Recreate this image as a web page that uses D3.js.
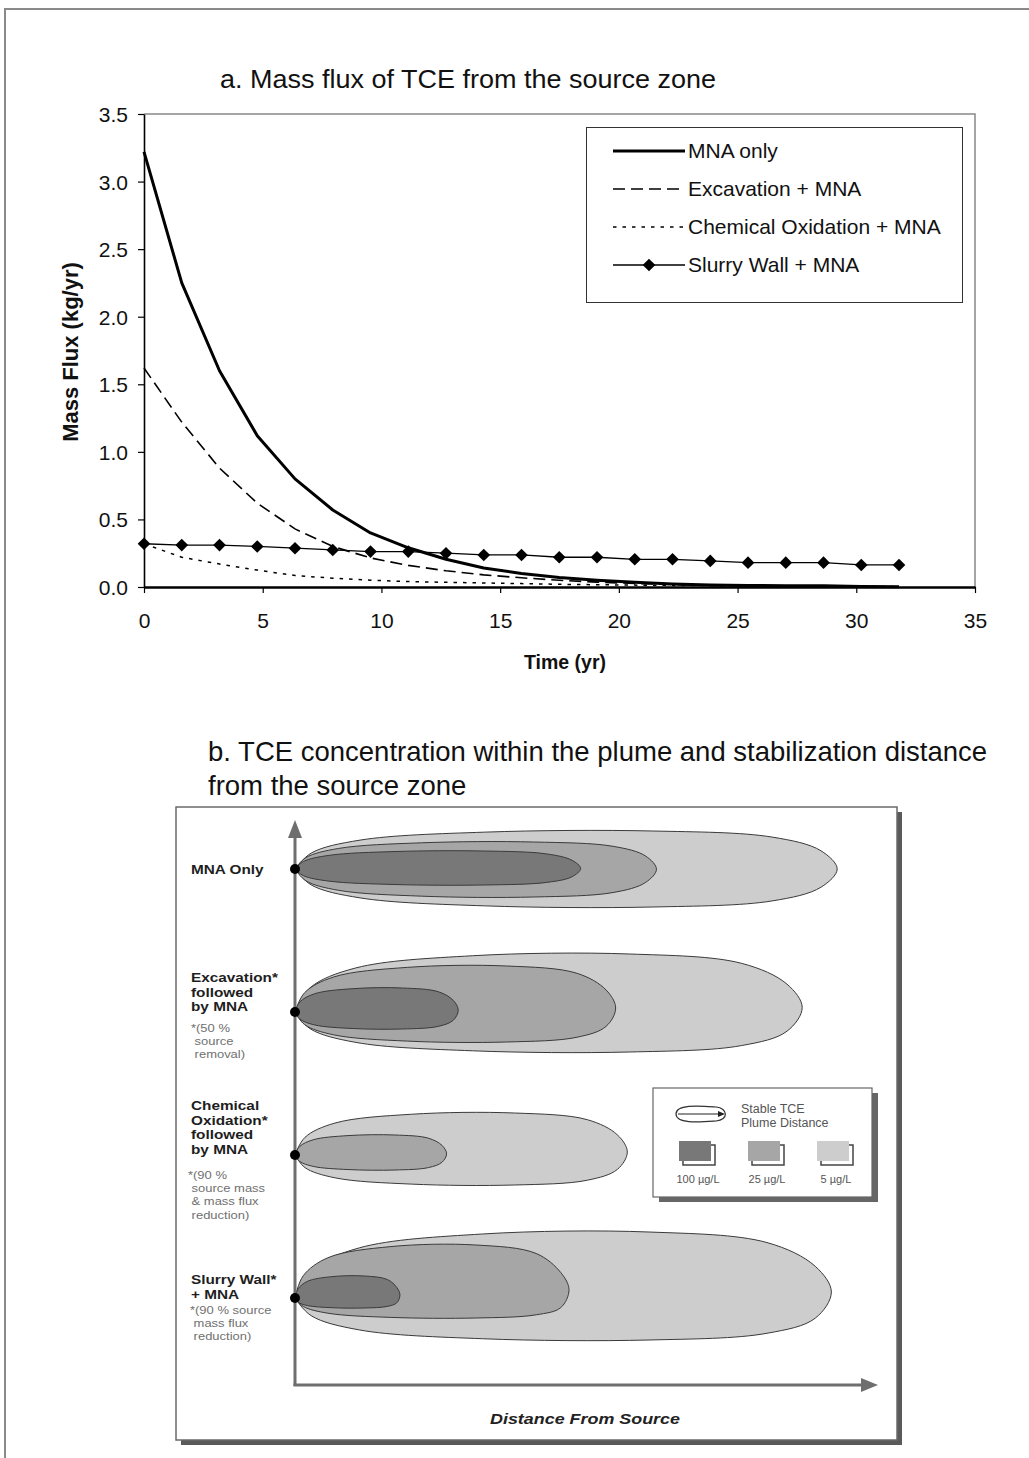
<!DOCTYPE html>
<html><head><meta charset="utf-8">
<script src="https://cdn.jsdelivr.net/npm/d3@7"></script>
<style>
html,body{margin:0;padding:0;background:#fff;}
svg{display:block;font-family:"Liberation Sans",Arial,Helvetica,sans-serif;}
</style></head>
<body>
<svg id="chart" width="1029" height="1458"></svg>
<script>
// ---------- Panel a data ----------
const times = [0,1.59,3.18,4.77,6.36,7.95,9.54,11.13,12.72,14.31,15.9,17.49,19.08,20.67,22.26,23.85,25.44,27.03,28.62,30.21,31.8];
const mnaOnly = [3.22,2.25,1.60,1.12,0.80,0.57,0.40,0.29,0.205,0.14,0.10,0.07,0.05,0.035,0.022,0.015,0.012,0.01,0.01,0.004,0.002];
const excavation = [1.62,1.22,0.88,0.62,0.43,0.30,0.215,0.16,0.12,0.09,0.068,0.05,0.036,0.026,0.018,0.012,0.008,0.006,0.004,0.003,0.002];
const chemOx = [0.32,0.22,0.17,0.125,0.085,0.065,0.05,0.04,0.035,0.03,0.025,0.02,0.017,0.014,0.012,0.01,0.008,0.007,0.006,0.005,0.004];
const slurryWall = [0.32,0.31,0.31,0.30,0.287,0.274,0.262,0.262,0.25,0.237,0.237,0.22,0.22,0.205,0.205,0.193,0.18,0.18,0.18,0.163,0.163];
const seriesNames = ["MNA only","Excavation + MNA","Chemical Oxidation + MNA","Slurry Wall + MNA"];
const xTicks = [0,5,10,15,20,25,30,35];
const yTicks = [0,0.5,1.0,1.5,2.0,2.5,3.0,3.5];

// ---------- Panel b data ----------
const scenarios = ["MNA Only","Excavation","Chemical Oxidation","Slurry Wall"];
const scenarioBold = [["MNA Only"],["Excavation*","followed","by MNA"],["Chemical","Oxidation*","followed","by MNA"],["Slurry Wall*","+ MNA"]];
const scenarioNote = [[],["*(50 %"," source"," removal)"],["*(90 %"," source mass"," & mass flux"," reduction)"],["*(90 % source"," mass flux"," reduction)"]];
const concLevels = ["100 µg/L","25 µg/L","5 µg/L"];
// plume extent along "distance" axis (0-100) for [5, 25, 100 µg/L]; null = absent
const plumeLength = [[93,62,49],[87,55,28],[57,26,null],[92,47,18]];
// half widths (upward, downward) for [5,25,100]
const plumeTop = [[38,27,18],[58,46,24],[42,20,null],[66,53,22]];
const plumeBot = [[38,28,16],[40,30,17],[30,15,null],[42,20,10]];

const svg = d3.select("#chart");
const FONT = '"Liberation Sans",Arial,Helvetica,sans-serif';

// helper: horizontally stretched text
function sText(x0, y0, str, size, sx, opts={}){
  return svg.append("text").attr("transform",`translate(${x0},${y0}) scale(${sx},1)`)
    .attr("font-size",size).attr("fill",opts.fill||"#222")
    .attr("font-weight",opts.weight||null).attr("font-style",opts.style||null)
    .attr("text-anchor",opts.anchor||"start").style("white-space","pre").text(str);
}

// outer frame
svg.append("path").attr("d","M5,1458 V9 H1029").attr("fill","none").attr("stroke","#8a8a8a").attr("stroke-width",2);

// ================= Panel a =================
const x = d3.scaleLinear().domain([0,35]).range([144,975]);
const y = d3.scaleLinear().domain([0,3.5]).range([587,114]);

svg.append("text").attr("x",220).attr("y",88).attr("font-size",26).attr("fill","#111")
  .attr("textLength",496).attr("lengthAdjust","spacingAndGlyphs")
  .text("a. Mass flux of TCE from the source zone");

// plot frame (top/right gray)
svg.append("path").attr("d",`M${x(0)},${y(3.5)} H${x(35)} V${y(0)}`).attr("fill","none").attr("stroke","#888").attr("stroke-width",1.5);

const yAxis = svg.append("g").attr("transform",`translate(${x(0)},0)`)
  .call(d3.axisLeft(y).tickValues(yTicks).tickFormat(d3.format(".1f")).tickSize(6).tickSizeOuter(0));
yAxis.select(".domain").attr("stroke","#000").attr("stroke-width",1.6);
yAxis.selectAll(".tick line").attr("stroke","#000").attr("stroke-width",1.2);
yAxis.selectAll(".tick text").attr("font-size",21).attr("font-family",FONT).attr("fill","#111").attr("x",-16).attr("dy","0.36em");

const xAxis = svg.append("g").attr("transform",`translate(0,${y(0)})`)
  .call(d3.axisBottom(x).tickValues(xTicks).tickFormat(d3.format("d")).tickSize(6).tickSizeOuter(0));
xAxis.select(".domain").attr("stroke","#000").attr("stroke-width",2.6);
xAxis.selectAll(".tick line").attr("stroke","#000").attr("stroke-width",1.2);
xAxis.selectAll(".tick text").attr("font-size",21).attr("font-family",FONT).attr("fill","#111").attr("y",26);

svg.append("text").attr("x",565).attr("y",669).attr("text-anchor","middle").attr("font-size",19.5).attr("font-weight","bold").attr("fill","#111").text("Time (yr)");
svg.append("text").attr("transform","translate(78,352) rotate(-90)").attr("text-anchor","middle").attr("font-size",22).attr("font-weight","bold").attr("fill","#111").text("Mass Flux (kg/yr)");

const styles = [
  {w:3, dash:null},
  {w:1.6, dash:"12,6"},
  {w:1.5, dash:"3.5,6"},
  {w:1.3, dash:null}
];
const allSeries = [mnaOnly, excavation, chemOx, slurryWall];
const line = d3.line().x((d,i)=>x(times[i])).y(d=>y(d));
allSeries.forEach((s,k)=>{
  svg.append("path").datum(s).attr("d",line).attr("fill","none").attr("stroke","#000")
    .attr("stroke-width",styles[k].w).attr("stroke-dasharray",styles[k].dash).attr("stroke-linejoin","round");
});
const diamond = d3.symbol().type(d3.symbolSquare).size(80);
svg.append("g").selectAll("path").data(slurryWall).join("path")
  .attr("d",diamond).attr("fill","#000")
  .attr("transform",(d,i)=>`translate(${x(times[i])},${y(d)}) rotate(45)`);

// legend
const lg = svg.append("g");
lg.append("rect").attr("x",586.5).attr("y",127.5).attr("width",376).attr("height",175).attr("fill","#fff").attr("stroke","#333").attr("stroke-width",1);
seriesNames.forEach((n,k)=>{
  const ly = 151 + k*38;
  lg.append("line").attr("x1",613).attr("x2",685).attr("y1",ly).attr("y2",ly).attr("stroke","#000")
    .attr("stroke-width",styles[k].w).attr("stroke-dasharray",styles[k].dash);
  if(k===3) lg.append("path").attr("d",diamond).attr("fill","#000").attr("transform",`translate(649,${ly}) rotate(45)`);
  lg.append("text").attr("x",688).attr("y",ly+7).attr("font-size",21).attr("fill","#111").text(n);
});

// ================= Panel b =================
svg.append("text").attr("x",208).attr("y",761).attr("font-size",27.5).attr("fill","#111")
  .text("b. TCE concentration within the plume and stabilization distance");
svg.append("text").attr("x",208).attr("y",795).attr("font-size",27.5).attr("fill","#111")
  .text("from the source zone");

// box with shadow
const box = {x0:176, y0:807, x1:897, y1:1440};
svg.append("rect").attr("x",box.x0+5).attr("y",box.y0+5).attr("width",box.x1-box.x0).attr("height",box.y1-box.y0).attr("fill","#5a5a5a");
svg.append("rect").attr("x",box.x0).attr("y",box.y0).attr("width",box.x1-box.x0).attr("height",box.y1-box.y0).attr("fill","#fff").attr("stroke","#6a6a6a").attr("stroke-width",1.5);

const xd = d3.scaleLinear().domain([0,100]).range([295,878]);
const rowY = d3.scalePoint().domain(scenarios).range([869,1298]);
const fills = ["#cdcdcd","#a6a6a6","#787878"];
const profF = [0,0.03,0.12,0.35,0.66,0.88,0.97];
const profM = [0,0.42,0.76,0.97,1,0.84,0.48];
const plumeLine = d3.line().curve(d3.curveCatmullRom.alpha(0.5));

scenarios.forEach((s,r)=>{
  const cy = rowY(s);
  [0,1,2].forEach(l=>{
    const L = plumeLength[r][l];
    if(L==null) return;
    const t = plumeTop[r][l], b = plumeBot[r][l];
    const tipOff = (b - t)*0.25;
    const pts = [];
    profF.forEach((f,i)=>pts.push([xd(L*f), cy - t*profM[i]]));
    pts.push([xd(L), cy + tipOff]);
    for(let i=profF.length-1;i>=0;i--) pts.push([xd(L*profF[i]), cy + b*profM[i]]);
    svg.append("path").attr("d",plumeLine(pts)+"Z").attr("fill",fills[l]).attr("stroke","#3a3a3a").attr("stroke-width",1);
  });
});

// arrows
const arrowCol = "#6e6e6e";
svg.append("line").attr("x1",xd(0)).attr("x2",xd(0)).attr("y1",1386).attr("y2",835).attr("stroke",arrowCol).attr("stroke-width",3);
svg.append("path").attr("d",`M${xd(0)},820 L${xd(0)-7},838 L${xd(0)+7},838 Z`).attr("fill",arrowCol);
svg.append("line").attr("x1",xd(0)-1.5).attr("x2",xd(100)-14).attr("y1",1385).attr("y2",1385).attr("stroke",arrowCol).attr("stroke-width",3);
svg.append("path").attr("d",`M${xd(100)},1385 L${xd(100)-17},1378 L${xd(100)-17},1392 Z`).attr("fill",arrowCol);

// source dots
scenarios.forEach(s=>{
  svg.append("circle").attr("cx",xd(0)).attr("cy",rowY(s)).attr("r",5).attr("fill","#000");
});

// row labels: first bold baseline and first note baseline per row
const boldStart = [874, 982, 1110, 1284];
const noteStart = [null, 1032, 1179, 1314];
const noteX = [0, 191, 188, 190];
scenarios.forEach((s,r)=>{
  scenarioBold[r].forEach((t,i)=>{
    sText(191, boldStart[r] + i*14.6, t, 13, 1.18, {weight:"bold", fill:"#1e1e1e"});
  });
  scenarioNote[r].forEach((t,i)=>{
    sText(noteX[r], noteStart[r] + i*13.2, t, 11, 1.18, {fill:"#707070"});
  });
});

svg.append("text").attr("x",585).attr("y",1424).attr("text-anchor","middle").attr("font-size",15.5).attr("font-weight","bold").attr("font-style","italic").attr("fill","#222")
  .attr("textLength",190).attr("lengthAdjust","spacingAndGlyphs").text("Distance From Source");

// legend of panel b
const lb = svg.append("g");
lb.append("rect").attr("x",659).attr("y",1093).attr("width",219).attr("height",109).attr("fill","#666");
lb.append("rect").attr("x",653).attr("y",1088).attr("width",219).attr("height",109).attr("fill","#fff").attr("stroke","#666").attr("stroke-width",1.2);
lb.append("path").attr("d","M676,1114 C676,1104 700,1106 716,1107 C728,1108 729,1120 716,1121 C700,1122 676,1124 676,1114 Z").attr("fill","#fff").attr("stroke","#333").attr("stroke-width",1.2);
lb.append("line").attr("x1",678).attr("x2",720).attr("y1",1114).attr("y2",1114).attr("stroke","#222").attr("stroke-width",1.2);
lb.append("path").attr("d","M725,1114 L718,1111 L718,1117 Z").attr("fill","#222");
lb.append("text").attr("x",741).attr("y",1113).attr("font-size",12.5).attr("fill","#555").text("Stable TCE");
lb.append("text").attr("x",741).attr("y",1127).attr("font-size",12.5).attr("fill","#555").text("Plume Distance");
const swX = [679,748,817];
const swFill = [fills[2],fills[1],fills[0]];
concLevels.forEach((c,i)=>{
  lb.append("rect").attr("x",swX[i]+4).attr("y",1145).attr("width",32).attr("height",20).attr("fill","#fff").attr("stroke","#444").attr("stroke-width",1.5);
  lb.append("rect").attr("x",swX[i]).attr("y",1141).attr("width",32).attr("height",20).attr("fill",swFill[i]);
  lb.append("text").attr("x",swX[i]+19).attr("y",1183).attr("text-anchor","middle").attr("font-size",11).attr("fill","#555").text(c);
});
</script>
</body></html>
